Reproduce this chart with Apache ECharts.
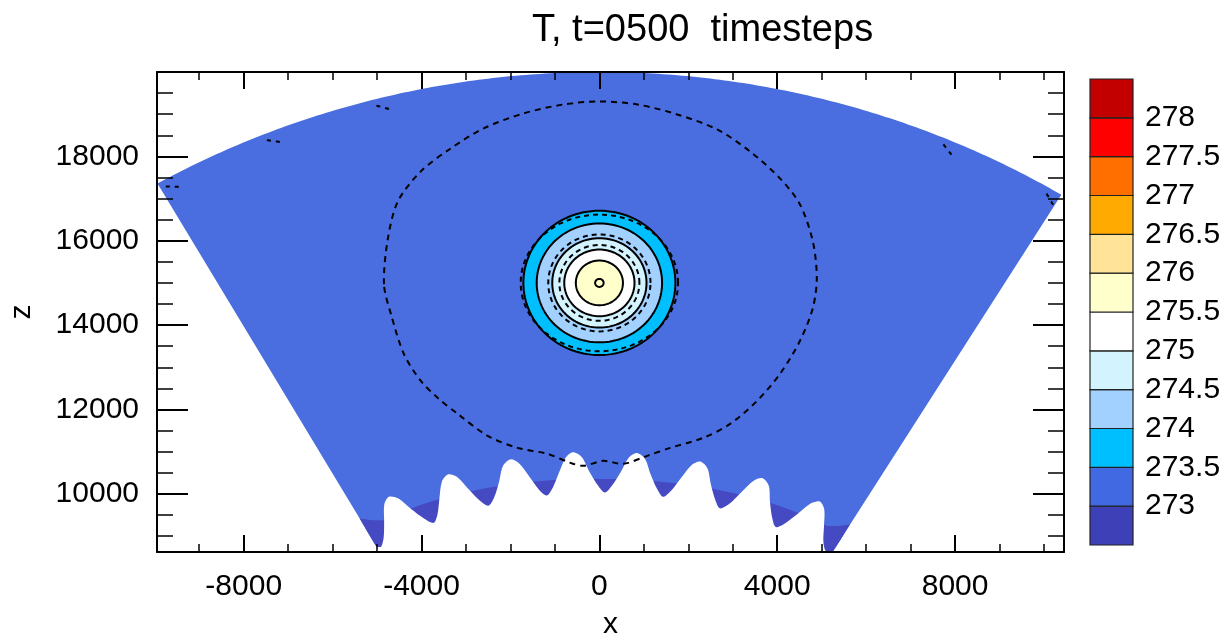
<!DOCTYPE html>
<html><head><meta charset="utf-8">
<script src="https://cdn.jsdelivr.net/npm/echarts@6/dist/echarts.min.js"></script>
<style>html,body{margin:0;padding:0;background:#fff;}#c{width:1227px;height:639px;}</style>
</head><body><div id="c"></div>
<script>
// ---------------- data ----------------
const titleText = 'T, t=0500  timesteps';
const xTicks = [-8000, -4000, 0, 4000, 8000];
const xMinorTicks = [-9000, -7000, -6000, -5000, -3000, -2000, -1000, 1000, 2000, 3000, 5000, 6000, 7000, 9000, 10000];
const zTicks = [10000, 12000, 14000, 16000, 18000];
const zMinorTicks = [9000, 9500, 10500, 11000, 11500, 12500, 13000, 13500, 14500, 15000, 15500, 16500, 17000, 17500, 18500, 19000, 19500];
const xRange = [-9950, 10450];
const zRange = [8620, 20000];
const levels = [273, 273.5, 274, 274.5, 275, 275.5, 276, 276.5, 277, 277.5, 278];
const levelColors = ['#3e40b8', '#4169e1', '#00bfff', '#a2d1ff', '#d3f4ff', '#ffffff', '#ffffcc', '#ffe398', '#ffaa00', '#ff6f00', '#ff0000', '#c30000'];
// domain: annular sector (radius, angle in degrees)
const domainRadius = [10000, 20000];
const domainAngle = [58.7, 119.8];
// terrain height above inner radius, read along the angle
const terrainAngle = [119.8, 119.3, 118.4, 117.4, 116.4, 115.5, 114.6, 113.7, 112.7, 111.8, 110.9, 110.0, 109.0, 108.0, 107.1, 106.2, 105.3, 104.4, 103.4, 102.4, 101.5, 100.5, 99.6, 98.6, 97.7, 96.8, 95.9, 95.0, 94.0, 93.1, 92.1, 91.2, 90.2, 89.3, 88.4, 87.4, 86.5, 85.6, 84.6, 83.7, 82.7, 81.8, 80.9, 80.0, 79.0, 78.1, 77.1, 76.2, 75.2, 74.3, 73.3, 72.4, 71.4, 70.5, 69.5, 68.6, 67.6, 66.7, 65.8, 64.9, 64.0, 63.2, 62.3, 61.3, 60.4, 59.5, 58.7];
const terrainHeight = [60, 30, 200, 520, 880, 1000, 880, 520, 200, 30, 200, 520, 880, 1000, 880, 520, 200, 30, 200, 520, 880, 1000, 880, 520, 200, 30, 200, 520, 880, 1000, 880, 520, 200, 30, 200, 520, 880, 1000, 880, 520, 200, 30, 200, 520, 880, 1000, 880, 520, 200, 30, 200, 520, 880, 1000, 880, 520, 200, 30, 200, 520, 880, 1000, 880, 520, 200, 30, 70];
// cold (<273) layer near the ground: top radius along the angle
const coldAngle = [119.8, 118.8, 117.5, 111.8, 104.4, 96.8, 89.3, 81.8, 74.3, 66.7, 61.0, 59.7, 58.7];
const coldTop = [10850, 10700, 10560, 10530, 10450, 10380, 10350, 10380, 10450, 10530, 10560, 10700, 10850];
// warm bubble: filled bands (outer radius) and contour rings
const bubbleCenter = [0, 15000];
const bubbleBandRadius = [1710, 1410, 1060, 790, 530];
const bubbleBandLevel = [2, 3, 4, 5, 6];
const solidRingRadius = [1710, 1410, 1060, 790, 530, 95];
const dashedRingRx = [1770, 1150, 900];
const dashedRingRz = [1620, 1150, 900];
// large dashed contour around the bubble
const outerContourX = [-4845, -4756, -4531, -4015, -3342, -2602, -1705, -807, 0, 852, 1750, 2647, 3387, 4060, 4509, 4800, 4890, 4800, 4509, 4060, 3544, 2939, 2333, 1593, 1077, 538, 90, -359, -651, -1166, -1839, -2512, -3185, -3634, -4015, -4397, -4688];
const outerContourZ = [14970, 16059, 16935, 17645, 18189, 18663, 19018, 19231, 19302, 19231, 18994, 18639, 18118, 17479, 16864, 15988, 15112, 14402, 13621, 12840, 12201, 11657, 11325, 11089, 10900, 10710, 10781, 10663, 10734, 10947, 11089, 11373, 11893, 12272, 12675, 13314, 14260];
// small contour fragments at the top boundary
const arcFragmentAngle = [119.2, 111.9, 104.4, 66.8, 59.3];

// ---------------- chart ----------------
const FONT = 'Liberation Sans, Arial, Helvetica, sans-serif';
const fieldColor = '#4a6edf';
const coldColor = '#4549c2';
function polar(r, deg) { const a = deg * Math.PI / 180; return [r * Math.cos(a), r * Math.sin(a)]; }
function ellipse(api, cx, cz, rx, rz, n) {
  const pts = [];
  for (let i = 0; i < n; i++) { const a = 2 * Math.PI * i / n; pts.push(api.coord([cx + rx * Math.cos(a), cz + rz * Math.sin(a)])); }
  return pts;
}
function arcPts(api, r0, r1, a0, a1, n) {
  const pts = [];
  for (let i = 0; i <= n; i++) { const t = i / n; pts.push(api.coord(polar(r0 + (r1 - r0) * t, a0 + (a1 - a0) * t))); }
  return pts;
}

function renderField(params, api) {
  const ch = [];
  const N = 200;
  const R0 = domainRadius[0], R1 = domainRadius[1];
  const cx = bubbleCenter[0], cz = bubbleCenter[1];
  // domain base
  const outer = arcPts(api, R1, R1, domainAngle[0], domainAngle[1], N);
  const inner = arcPts(api, R0, R0, domainAngle[1], domainAngle[0], N);
  ch.push({ type: 'polygon', shape: { points: outer.concat(inner) }, style: { fill: fieldColor } });
  // cold layer
  let cold = [];
  for (let i = 0; i < coldAngle.length - 1; i++) {
    cold = cold.concat(arcPts(api, coldTop[i], coldTop[i + 1], coldAngle[i], coldAngle[i + 1], 20));
  }
  cold = cold.concat(arcPts(api, R0, R0, coldAngle[coldAngle.length - 1], coldAngle[0], 120));
  ch.push({ type: 'polygon', shape: { points: cold, smooth: 0.2 }, style: { fill: coldColor } });
  // ground (white below terrain)
  const ground = [];
  for (let i = 0; i < terrainAngle.length; i++) ground.push(api.coord(polar(R0 + terrainHeight[i], terrainAngle[i])));
  const base = arcPts(api, R0 - 60, R0 - 60, terrainAngle[terrainAngle.length - 1], terrainAngle[0], 30);
  ch.push({ type: 'polygon', shape: { points: ground.concat(base), smooth: 0.3 }, style: { fill: '#ffffff' } });
  // bubble bands
  for (let i = 0; i < bubbleBandRadius.length; i++) {
    const r = bubbleBandRadius[i];
    ch.push({ type: 'polygon', shape: { points: ellipse(api, cx, cz, r, r, 120) }, style: { fill: levelColors[bubbleBandLevel[i]] } });
  }
  // contour lines
  for (const r of solidRingRadius) {
    ch.push({ type: 'polygon', shape: { points: ellipse(api, cx, cz, r, r, 120) }, style: { fill: 'none', stroke: '#000', lineWidth: 2 } });
  }
  for (let i = 0; i < dashedRingRx.length; i++) {
    ch.push({ type: 'polygon', shape: { points: ellipse(api, cx, cz, dashedRingRx[i], dashedRingRz[i], 120) }, style: { fill: 'none', stroke: '#000', lineWidth: 2, lineDash: [5, 4] } });
  }
  const oc = outerContourX.map((x, i) => api.coord([x, outerContourZ[i]]));
  ch.push({ type: 'polygon', shape: { points: oc, smooth: 0.3 }, style: { fill: 'none', stroke: '#000', lineWidth: 2, lineDash: [6, 5] } });
  for (const a of arcFragmentAngle) {
    ch.push({ type: 'polyline', shape: { points: arcPts(api, 19700, 19900, a - 0.5, a + 0.5, 6) }, style: { fill: 'none', stroke: '#000', lineWidth: 2, lineDash: [4, 5] } });
  }
  return { type: 'group', children: ch };
}

function renderBar(params, api) {
  const i = api.value(0);
  const p0 = api.coord([0, i]);
  const p1 = api.coord([1, i + 1]);
  return { type: 'rect', shape: { x: p0[0], y: p1[1], width: p1[0] - p0[0], height: p0[1] - p1[1] }, style: { fill: levelColors[i], stroke: '#222', lineWidth: 1.2 } };
}

const tickLabel = { fontSize: 30, color: '#000', fontFamily: FONT };
const plain = v => String(v);
const chart = echarts.init(document.getElementById('c'), null, { renderer: 'canvas' });
chart.setOption({
  animation: false,
  backgroundColor: '#fff',
  title: { text: titleText, left: 527, top: 7, textStyle: { fontSize: 38, fontWeight: 'normal', color: '#000', fontFamily: FONT } },
  grid: [
    { left: 157, right: 163, top: 72, bottom: 87, containLabel: false, outerBoundsMode: 'none' },
    { left: 1090, width: 43, top: 79, height: 466, containLabel: false, outerBoundsMode: 'none' }
  ],
  xAxis: [
    { gridIndex: 0, type: 'value', min: xRange[0], max: xRange[1], position: 'bottom', z: 5,
      axisLine: { show: true, onZero: false, lineStyle: { color: '#000', width: 2 } },
      axisTick: { show: true, inside: true, length: 17, customValues: xTicks, lineStyle: { color: '#000', width: 2 } },
      axisLabel: Object.assign({ customValues: xTicks, margin: 20, formatter: plain }, tickLabel),
      splitLine: { show: false },
      name: 'x', nameLocation: 'middle', nameGap: 58, nameTextStyle: { fontSize: 30, color: '#000', fontFamily: FONT } },
    { gridIndex: 0, type: 'value', min: xRange[0], max: xRange[1], position: 'bottom', z: 5,
      axisLine: { show: false, onZero: false }, axisTick: { show: true, inside: true, length: 8, customValues: xMinorTicks, lineStyle: { color: '#000', width: 1.5 } },
      axisLabel: { show: false }, splitLine: { show: false } },
    { gridIndex: 0, type: 'value', min: xRange[0], max: xRange[1], position: 'top', z: 5,
      axisLine: { show: true, onZero: false, lineStyle: { color: '#000', width: 2 } },
      axisTick: { show: true, inside: true, length: 17, customValues: xTicks, lineStyle: { color: '#000', width: 2 } },
      axisLabel: { show: false }, splitLine: { show: false } },
    { gridIndex: 0, type: 'value', min: xRange[0], max: xRange[1], position: 'top', z: 5,
      axisLine: { show: false, onZero: false }, axisTick: { show: true, inside: true, length: 8, customValues: xMinorTicks, lineStyle: { color: '#000', width: 1.5 } },
      axisLabel: { show: false }, splitLine: { show: false } },
    { gridIndex: 1, type: 'value', min: 0, max: 1, show: false }
  ],
  yAxis: [
    { gridIndex: 0, type: 'value', min: zRange[0], max: zRange[1], position: 'left', z: 5,
      axisLine: { show: true, onZero: false, lineStyle: { color: '#000', width: 2 } },
      axisTick: { show: true, inside: true, length: 31, customValues: zTicks, lineStyle: { color: '#000', width: 2 } },
      axisLabel: Object.assign({ customValues: zTicks, margin: 18, formatter: plain }, tickLabel),
      splitLine: { show: false },
      name: 'z', nameLocation: 'middle', nameGap: 120, nameRotate: 90, nameTextStyle: { fontSize: 30, color: '#000', fontFamily: FONT } },
    { gridIndex: 0, type: 'value', min: zRange[0], max: zRange[1], position: 'left', z: 5,
      axisLine: { show: false, onZero: false }, axisTick: { show: true, inside: true, length: 16, customValues: zMinorTicks, lineStyle: { color: '#000', width: 1.5 } },
      axisLabel: { show: false }, splitLine: { show: false } },
    { gridIndex: 0, type: 'value', min: zRange[0], max: zRange[1], position: 'right', z: 5,
      axisLine: { show: true, onZero: false, lineStyle: { color: '#000', width: 2 } },
      axisTick: { show: true, inside: true, length: 31, customValues: zTicks, lineStyle: { color: '#000', width: 2 } },
      axisLabel: { show: false }, splitLine: { show: false } },
    { gridIndex: 0, type: 'value', min: zRange[0], max: zRange[1], position: 'right', z: 5,
      axisLine: { show: false, onZero: false }, axisTick: { show: true, inside: true, length: 16, customValues: zMinorTicks, lineStyle: { color: '#000', width: 1.5 } },
      axisLabel: { show: false }, splitLine: { show: false } },
    { gridIndex: 1, type: 'value', min: 0, max: levelColors.length, interval: 1, position: 'right',
      axisLine: { show: false }, axisTick: { show: false }, splitLine: { show: false },
      axisLabel: Object.assign({ margin: 12, formatter: v => (v >= 1 && v <= levels.length) ? String(levels[v - 1]) : '' }, tickLabel) }
  ],
  series: [
    { type: 'custom', xAxisIndex: 0, yAxisIndex: 0, clip: false, z: 2, data: [[0, 15000]], renderItem: renderField, silent: true },
    { type: 'custom', xAxisIndex: 4, yAxisIndex: 4, clip: false, data: levelColors.map((c, i) => [i]), encode: { y: 0 }, renderItem: renderBar, silent: true }
  ]
});
</script>
</body></html>
